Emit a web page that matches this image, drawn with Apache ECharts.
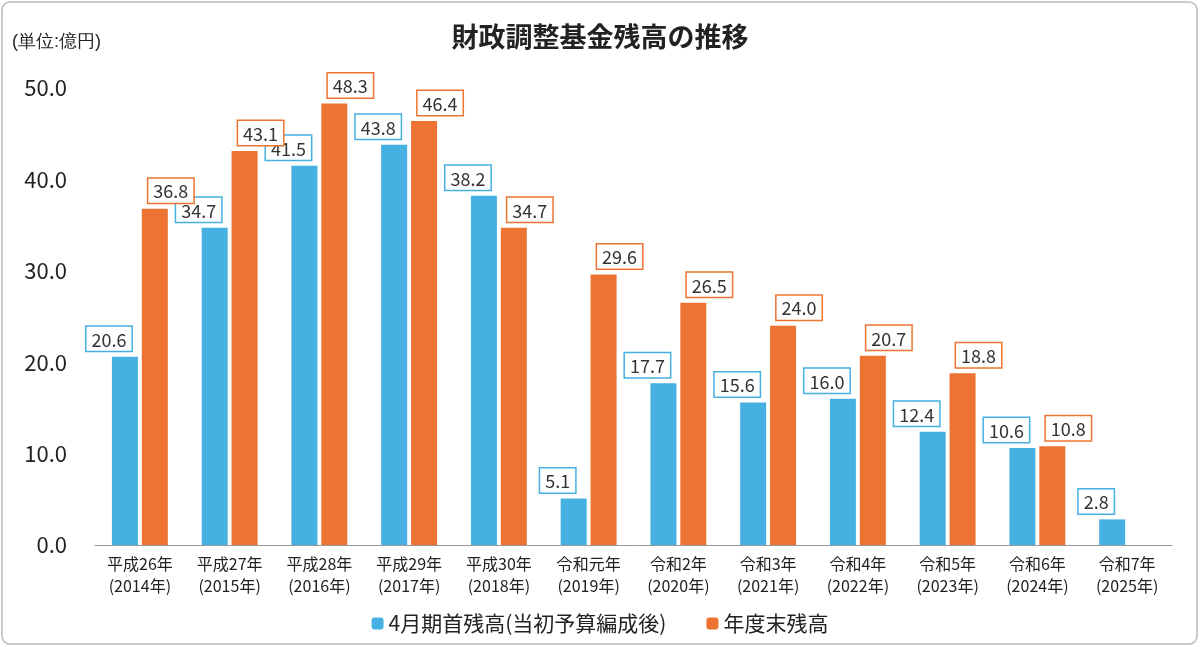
<!DOCTYPE html>
<html><head><meta charset="utf-8">
<script src="https://cdn.jsdelivr.net/npm/echarts@6/dist/echarts.min.js"></script>
<style>html,body{margin:0;background:#fff}#c{width:1200px;height:647px}</style>
</head><body><div id="c"></div>
<script>
var categories = ['平成26年\n(2014年)','平成27年\n(2015年)','平成28年\n(2016年)','平成29年\n(2017年)','平成30年\n(2018年)','令和元年\n(2019年)','令和2年\n(2020年)','令和3年\n(2021年)','令和4年\n(2022年)','令和5年\n(2023年)','令和6年\n(2024年)','令和7年\n(2025年)'];
var aprilValues = [20.6, 34.7, 41.5, 43.8, 38.2, 5.1, 17.7, 15.6, 16.0, 12.4, 10.6, 2.8];
var yearEndValues = [36.8, 43.1, 48.3, 46.4, 34.7, 29.6, 26.5, 24.0, 20.7, 18.8, 10.8, null];
var seriesNames = ['4月期首残高(当初予算編成後)', '年度末残高'];

var font = '"Noto Sans CJK JP", "Noto Sans", sans-serif';
function label(color, dx) {
  return {
    show: true, position: 'top', distance: 6, offset: [dx, 0],
    formatter: function (p) { return p.value.toFixed(1); },
    color: '#333', fontSize: 18, fontFamily: font,
    backgroundColor: '#fff', borderColor: color, borderWidth: 1.5,
    padding: [4, 5, 2, 5]
  };
}
var chart = echarts.init(document.getElementById('c'));
chart.setOption({
  textStyle: { fontFamily: font },
  graphic: [{
    type: 'rect', shape: { x: 2, y: 2, width: 1195, height: 642, r: 8 },
    style: { fill: 'none', stroke: '#bbb', lineWidth: 1.5 }, silent: true
  }, {
    type: 'text', left: 12, top: 33,
    style: { text: '(単位:億円)', fontSize: 18, fill: '#222', font: '18px ' + font }
  }],
  title: {
    text: '財政調整基金残高の推移', left: 'center', top: 18,
    textStyle: { fontSize: 27, fontWeight: 'bold', color: '#222', fontFamily: font }
  },
  legend: {
    data: seriesNames, bottom: 8, itemWidth: 12, itemHeight: 12, itemGap: 40,
    textStyle: { fontSize: 21, color: '#222', fontFamily: font }
  },
  grid: { left: 95, right: 28, top: 88, bottom: 102, containLabel: false },
  xAxis: {
    type: 'category', data: categories,
    axisLine: { lineStyle: { color: '#999' } }, axisTick: { show: false },
    axisLabel: { fontSize: 16, color: '#222', lineHeight: 22, interval: 0, margin: 8 }
  },
  yAxis: {
    type: 'value', min: 0, max: 50, interval: 10,
    splitLine: { show: false },
    axisLabel: { fontSize: 22, color: '#222', formatter: function (v) { return v.toFixed(1); }, margin: 28 }
  },
  series: [{
    name: seriesNames[0], type: 'bar', data: aprilValues, barWidth: 26, barGap: '15%',
    itemStyle: { color: '#45B0E1' }, label: label('#45B0E1', -16)
  }, {
    name: seriesNames[1], type: 'bar', data: yearEndValues, barWidth: 26,
    itemStyle: { color: '#EC7332' }, label: label('#EC7332', 16)
  }]
});
</script></body></html>
